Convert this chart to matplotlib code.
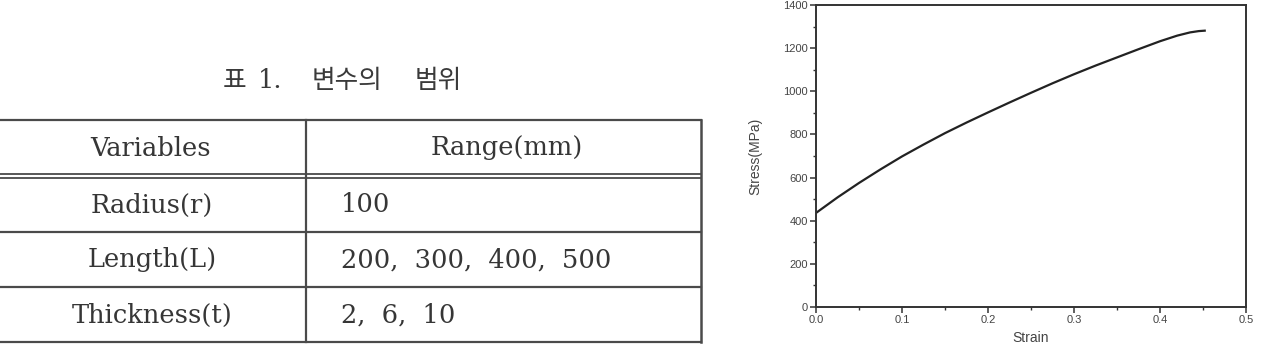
import matplotlib
matplotlib.use("Agg")
import matplotlib.pyplot as plt
from matplotlib.ticker import MultipleLocator

# ---------------- data ----------------
table_title = "표 1. 변수의 범위"
col_headers = ["Variables", "Range(mm)"]
row_labels = ["Radius(r)", "Length(L)", "Thickness(t)"]
row_values = ["100", "200, 300, 400, 500", "2, 6, 10"]

strain = [0.0, 0.025, 0.05, 0.075, 0.10, 0.125, 0.15, 0.175, 0.20, 0.225,
          0.25, 0.275, 0.30, 0.325, 0.35, 0.375, 0.40, 0.42, 0.435, 0.445, 0.452]
stress = [436, 508, 575, 638, 698, 753, 806, 855, 902, 948,
          993, 1037, 1079, 1119, 1157, 1195, 1232, 1258, 1273, 1279, 1281]

x_ticks = [0.0, 0.1, 0.2, 0.3, 0.4, 0.5]
y_ticks = [0, 200, 400, 600, 800, 1000, 1200, 1400]

# ---------------- figure ----------------
W, H = 1263, 360
fig = plt.figure(figsize=(W / 100, H / 100), dpi=100)

# ---- table (left) ----
tab = fig.add_axes([0, 0, 1, 1])
tab.set_xlim(0, W)
tab.set_ylim(H, 0)
tab.axis("off")

line_col = "#4a4a4a"
text_col = "#363636"
x_left, x_div, x_right = 0, 306, 701
y_top, y_hdr1, y_hdr2 = 120, 174, 177.5
row_lines = [232, 287, 342]

# title, word by word (letter-spaced like the original)
title_word_x = [223, 258, 312, 415]
for i, (wx, word) in enumerate(zip(title_word_x, table_title.split(" "))):
    fam = ["DejaVu Serif"] if i == 1 else ["Noto Sans CJK KR", "DejaVu Sans"]
    tab.text(wx, 81, word, ha="left", va="center", fontsize=18.5,
             family=fam, color="#3a3a3a")

tab.plot([x_left, x_right], [y_top, y_top], color=line_col, lw=1.6)
tab.plot([x_left, x_right], [y_hdr1, y_hdr1], color=line_col, lw=1.3)
tab.plot([x_left, x_right], [y_hdr2, y_hdr2], color=line_col, lw=1.3)
for yl in row_lines:
    tab.plot([x_left, x_right], [yl, yl], color=line_col, lw=1.6)
tab.plot([x_div, x_div], [y_top, row_lines[-1]], color=line_col, lw=1.6)
tab.plot([x_right, x_right], [y_top, row_lines[-1]], color=line_col, lw=1.8)

serif = ["DejaVu Serif"]
fs = 18.5
tab.text(151, 148, col_headers[0], ha="center", va="center", fontsize=fs,
         family=serif, color=text_col)
tab.text(507, 148, col_headers[1], ha="center", va="center", fontsize=fs,
         family=serif, color=text_col)
row_centers = [205, 260, 315]
for yc, lab, val in zip(row_centers, row_labels, row_values):
    tab.text(152, yc, lab, ha="center", va="center", fontsize=fs,
             family=serif, color=text_col)
    tab.text(341, yc, val.replace(", ", ",  "), ha="left", va="center",
             fontsize=fs, family=serif, color=text_col)

# ---- chart (right) ----
sans = ["Liberation Sans", "DejaVu Sans"]
ax = fig.add_axes([816 / W, (H - 307) / H, 430 / W, 302 / H])
ax.plot(strain, stress, color="#222222", lw=1.6)
ax.set_xlim(0, 0.5)
ax.set_ylim(0, 1400)
ax.set_xticks(x_ticks)
ax.set_xticklabels([f"{t:.1f}" for t in x_ticks])
ax.set_yticks(y_ticks)
ax.set_yticklabels([str(t) for t in y_ticks])
ax.xaxis.set_minor_locator(MultipleLocator(0.05))
ax.yaxis.set_minor_locator(MultipleLocator(100))
for sp in ax.spines.values():
    sp.set_linewidth(1.4)
    sp.set_color("#333333")
ax.tick_params(which="major", direction="out", length=4, width=1.1,
               colors="#333333", labelsize=8, labelcolor="#444444", pad=2)
ax.tick_params(which="minor", direction="out", length=2.5, width=1.0,
               colors="#333333")
for lbl in ax.get_xticklabels() + ax.get_yticklabels():
    lbl.set_family(sans)
ax.set_xlabel("Strain", fontsize=10, family=sans, color="#444444", labelpad=4)
ax.set_ylabel("Stress(MPa)", fontsize=10, family=sans, color="#444444",
              labelpad=15)

fig.savefig("out.png", dpi=100)
